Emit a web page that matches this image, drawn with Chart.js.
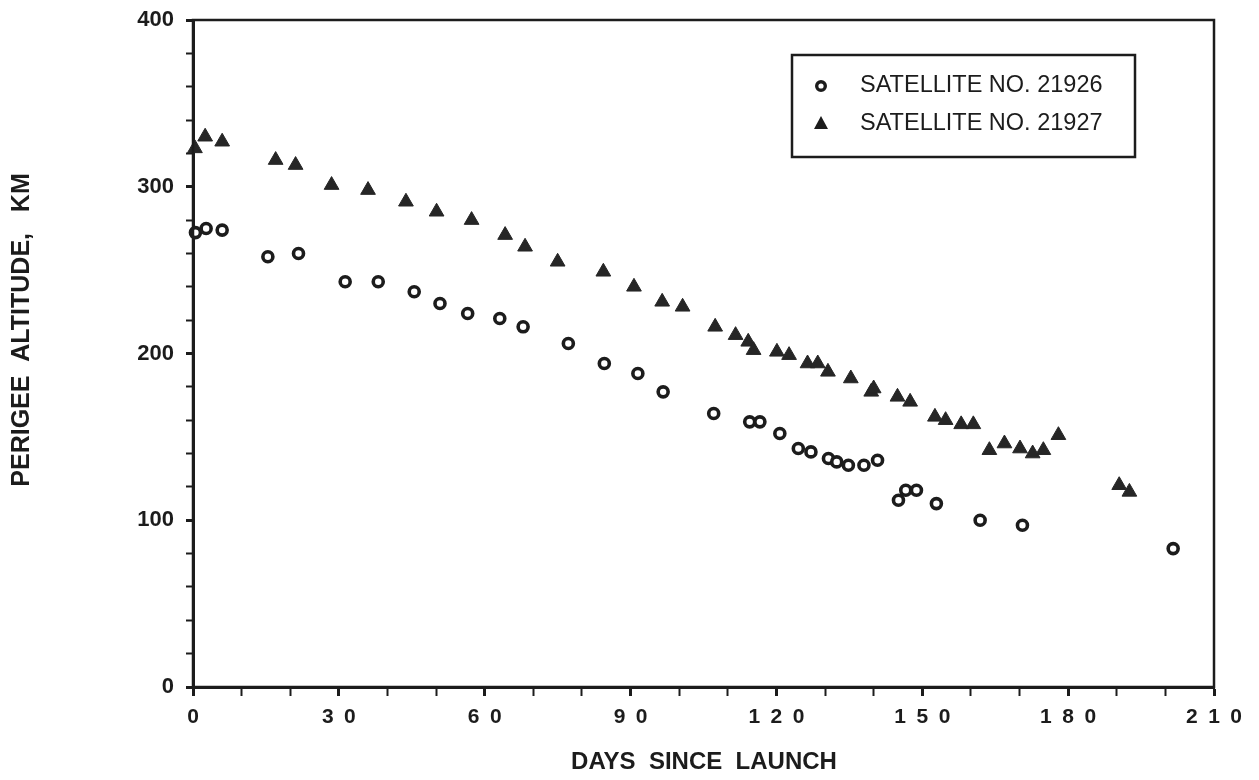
<!DOCTYPE html>
<html>
<head>
<meta charset="utf-8">
<script src="https://cdn.jsdelivr.net/npm/chart.js@4"></script>
<style>
  body { margin: 0; background: #fff; }
  #wrap { width: 1259px; height: 780px; }
</style>
</head>
<body>
<div id="wrap"><canvas id="c" width="1259" height="780"></canvas></div>
<script>
// satellite 21926 (open circles)
const days21926 = [0.5, 2.7, 6, 15.4, 21.7, 31.3, 38.1, 45.5, 50.8, 56.5, 63.1, 67.9, 77.2, 84.6, 91.5, 96.7,
  107.1, 114.5, 116.6, 120.7, 124.5, 127.1, 130.7, 132.4, 134.8, 138, 140.8, 145.1, 146.6, 148.8, 152.9,
  161.9, 170.6, 201.6]
const alt21926 = [272.5, 275, 274, 258, 260, 243, 243, 237, 230, 224, 221, 216, 206, 194, 188, 177,
  164, 159, 159, 152, 143, 141, 137, 135, 133, 133, 136, 112, 118, 118, 110,
  100, 97, 83]

// satellite 21927 (filled triangles)
const days21927 = [0.4, 2.5, 6, 17, 21.1, 28.5, 36, 43.8, 50.1, 57.3, 64.2, 68.3, 75, 84.4, 90.7, 96.5,
  100.7, 107.4, 111.6, 114.2, 115.3, 120.1, 122.6, 126.4, 128.5, 130.6, 135.3, 139.5, 140, 144.9, 147.5,
  152.6, 154.8, 158, 160.5, 163.8, 166.9, 170.1, 172.7, 174.9, 178, 190.5, 192.6]
const alt21927 = [323, 330, 327, 316, 313, 301, 298, 291, 285, 280, 271, 264, 255, 249, 240, 231,
  228, 216, 211, 207, 202, 201, 199, 194, 194, 189, 185, 177, 179, 174, 171,
  162, 160, 157.5, 157.5, 142, 146, 143, 140, 142, 151, 121, 117]

const xLabels = [0, 30, 60, 90, 120, 150, 180, 210]
const yLabels = [0, 100, 200, 300, 400]

const seriesNames = ['SATELLITE NO. 21926', 'SATELLITE NO. 21927']

const ink = '#1c1c1c'
const fam = '"Liberation Sans", Arial, Helvetica, sans-serif'

function toPoints(xs, ys) {
  return xs.map((x, i) => ({ x, y: ys[i] }))
}

// frame, axis titles and the boxed legend
const decorations = {
  id: 'decorations',
  afterDraw(chart) {
    const { ctx, chartArea: a } = chart
    ctx.save()
    ctx.strokeStyle = ink
    ctx.lineWidth = 2.5
    ctx.strokeRect(a.left, a.top, a.right - a.left, a.bottom - a.top)

    ctx.fillStyle = ink
    ctx.font = 'bold 24px ' + fam
    ctx.textAlign = 'center'
    ctx.textBaseline = 'middle'
    ctx.fillText('DAYS  SINCE  LAUNCH', 704, 762)

    ctx.save()
    ctx.translate(22, 330)
    ctx.rotate(-Math.PI / 2)
    ctx.font = 'bold 25px ' + fam
    ctx.fillText('PERIGEE  ALTITUDE,   KM', 0, 0)
    ctx.restore()

    // legend box
    ctx.lineWidth = 2.5
    ctx.strokeRect(792, 55, 343, 102)
    ctx.font = '23.5px ' + fam
    ctx.textAlign = 'left'
    ctx.fillText(seriesNames[0], 860, 86)
    ctx.fillText(seriesNames[1], 860, 124)

    ctx.beginPath()
    ctx.arc(821, 86, 4.3, 0, Math.PI * 2)
    ctx.lineWidth = 3.4
    ctx.stroke()

    ctx.beginPath()
    ctx.moveTo(821, 116)
    ctx.lineTo(828, 129)
    ctx.lineTo(814, 129)
    ctx.closePath()
    ctx.fill()
    ctx.restore()
  }
}

const ctx = document.getElementById('c')

new Chart(ctx, {
  type: 'scatter',
  data: {
    datasets: [
      {
        label: seriesNames[0],
        data: toPoints(days21926, alt21926),
        pointStyle: 'circle',
        pointRadius: 5,
        pointBorderWidth: 3.6,
        pointBackgroundColor: '#fff',
        pointBorderColor: ink,
        clip: false
      },
      {
        label: seriesNames[1],
        data: toPoints(days21927, alt21927),
        pointStyle: 'triangle',
        pointRadius: 8.5,
        pointBorderWidth: 1,
        pointBackgroundColor: '#262626',
        pointBorderColor: '#262626',
        clip: false
      }
    ]
  },
  options: {
    responsive: false,
    animation: false,
    devicePixelRatio: 1,
    layout: { padding: { top: 20, right: 45, left: 0, bottom: 0 } },
    plugins: {
      legend: { display: false },
      tooltip: { enabled: false }
    },
    scales: {
      x: {
        type: 'linear',
        min: 0,
        max: 210,
        afterFit(scale) { scale.height = 93 },
        ticks: {
          stepSize: 10,
          autoSkip: false,
          maxRotation: 0,
          padding: 9,
          color: ink,
          font: { family: fam, size: 21, weight: 'bold' },
          callback: (v) => xLabels.includes(v) ? String(v).split('').join('\u2002') : ''
        },
        grid: {
          drawOnChartArea: false,
          drawTicks: true,
          tickLength: 9,
          tickColor: ink,
          tickWidth: (c) => (c.tick && c.tick.value % 30 === 0) ? 3 : 2
        },
        border: { display: true, color: ink, width: 3 }
      },
      y: {
        type: 'linear',
        min: 0,
        max: 400,
        afterFit(scale) {
          scale.width = 193
          scale.paddingTop = 0
          scale.paddingBottom = 0
        },
        ticks: {
          stepSize: 20,
          autoSkip: false,
          padding: 12,
          color: ink,
          font: { family: fam, size: 22, weight: 'bold' },
          callback: (v) => yLabels.includes(v) ? String(v) : ''
        },
        grid: {
          drawOnChartArea: false,
          drawTicks: true,
          tickLength: 7,
          tickColor: ink,
          tickWidth: (c) => (c.tick && c.tick.value % 100 === 0) ? 3 : 2
        },
        border: { display: true, color: ink, width: 3 }
      }
    }
  },
  plugins: [decorations]
})
</script>
</body>
</html>
